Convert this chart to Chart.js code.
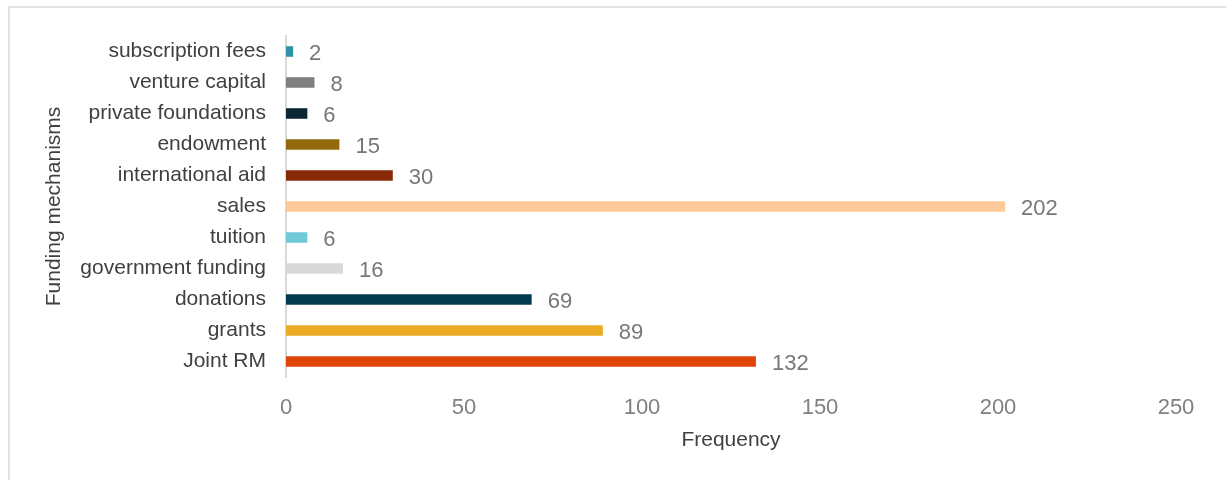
<!DOCTYPE html>
<html>
<head>
<meta charset="utf-8">
<script src="https://cdn.jsdelivr.net/npm/chart.js@4/dist/chart.umd.min.js"></script>
<style>
    body { margin: 0; background: #ffffff; overflow: hidden; }
    #frame { position: absolute; left: 8px; top: 6px; width: 1240px; height: 500px; border: 2px solid #e3e3e3; box-sizing: border-box; }
    #wrap { position: absolute; left: 0; top: 0; width: 1226px; height: 480px; }
</style>
</head>
<body>
<div id="frame"></div>
<div id="wrap"><canvas id="fundingChart" width="1226" height="480"></canvas></div>
<script>
// funding mechanisms, listed top to bottom as in the picture
const categories = ['subscription fees', 'venture capital', 'private foundations', 'endowment', 'international aid',
    'sales', 'tuition', 'government funding', 'donations', 'grants', 'Joint RM'];
const frequency = [2, 8, 6, 15, 30, 202, 6, 16, 69, 89, 132];
const barColors = ['#2e93a6', '#808080', '#0b2633', '#93690e', '#872a08',
    '#fdc89a', '#70c9d9', '#d9d9d9', '#013a4f', '#ecab25', '#e04408'];
const xTicks = [0, 50, 100, 150, 200, 250];

const fontFamily = '"Liberation Sans", Arial, Helvetica, sans-serif';

// Draw the value next to each bar
const valueLabels = {
    id: 'valueLabels',
    afterDatasetsDraw(chart) {
        const ctx = chart.ctx;
        const meta = chart.getDatasetMeta(0);
        ctx.save();
        ctx.font = '22px ' + fontFamily;
        ctx.fillStyle = '#777777';
        ctx.textAlign = 'left';
        ctx.textBaseline = 'middle';
        meta.data.forEach((bar, i) => {
            ctx.fillText(String(frequency[i]), bar.x + 16, bar.y + 2);
        });
        ctx.restore();
    }
};

new Chart(document.getElementById('fundingChart').getContext('2d'), {
    type: 'bar',
    data: {
        labels: categories,
        datasets: [{
            data: frequency,
            backgroundColor: barColors,
            borderWidth: 0,
            barPercentage: 0.34,
            categoryPercentage: 1
        }]
    },
    options: {
        indexAxis: 'y',
        responsive: false,
        animation: false,
        layout: { padding: { left: 38, right: 50, top: 36, bottom: 23 } },
        plugins: {
            legend: { display: false },
            tooltip: { enabled: false }
        },
        scales: {
            x: {
                min: 0,
                max: 250,
                afterBuildTicks: scale => { scale.ticks = xTicks.map(v => ({ value: v })); },
                afterFit: scale => { scale.height = 80; },
                grid: { display: false, drawTicks: false },
                border: { display: false },
                ticks: {
                    padding: 18,
                    color: '#808080',
                    font: { family: fontFamily, size: 22 }
                },
                title: {
                    display: true,
                    text: 'Frequency',
                    color: '#404040',
                    font: { family: fontFamily, size: 21 },
                    padding: { top: 4, bottom: 4 }
                }
            },
            y: {
                afterFit: scale => { scale.width = 248; },
                grid: { display: false, drawTicks: false },
                border: { display: true, color: '#d9d9d9', width: 2 },
                ticks: {
                    padding: 20,
                    color: '#404040',
                    font: { family: fontFamily, size: 21 }
                },
                title: {
                    display: true,
                    text: 'Funding mechanisms',
                    color: '#404040',
                    font: { family: fontFamily, size: 21 },
                    padding: { top: 4, bottom: 4 }
                }
            }
        }
    },
    plugins: [valueLabels]
});
</script>
</body>
</html>
